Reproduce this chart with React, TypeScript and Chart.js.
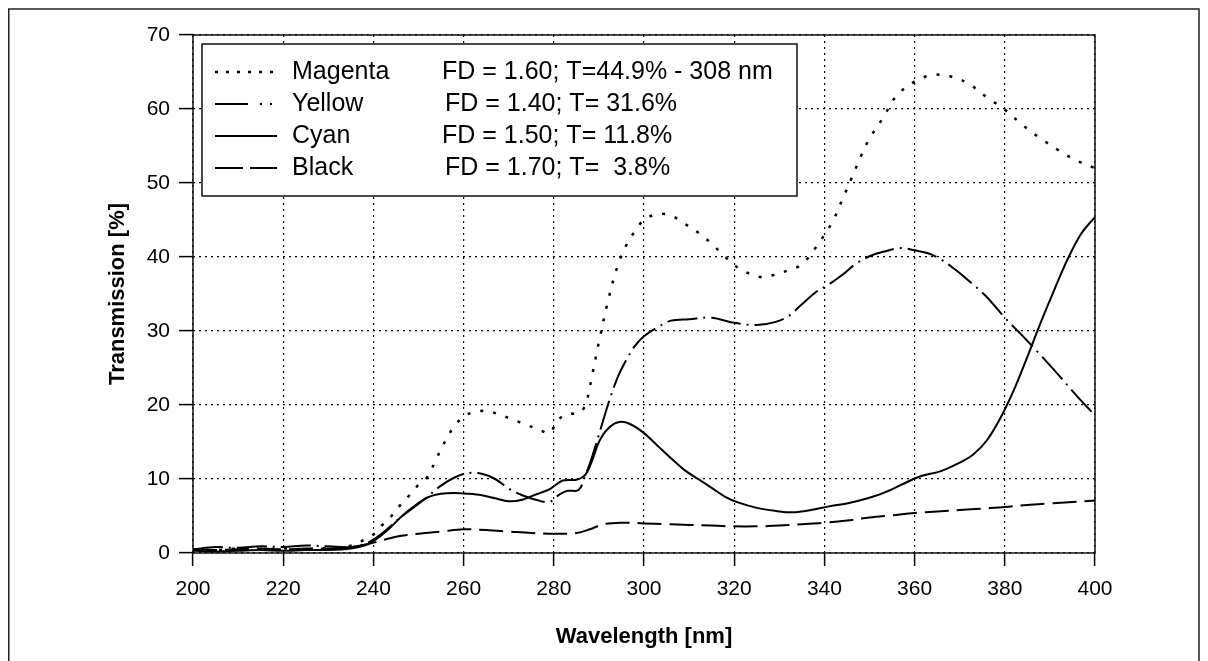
import React, { useEffect, useRef } from "react";
import { Chart, registerables } from "chart.js";

Chart.register(...registerables);

const FONT = "'Liberation Sans', Arial, Helvetica, sans-serif";

// ---- data ----
const xMin = 200;
const xMax = 400;
const xStep = 20;
const yMin = 0;
const yMax = 70;
const yStep = 10;

const xTitle = "Wavelength [nm]";
const yTitle = "Transmission [%]";

const seriesNames = ["Magenta", "Yellow", "Cyan", "Black"];
const seriesNotes = [
  "FD = 1.60; T=44.9% - 308 nm",
  "FD = 1.40; T= 31.6%",
  "FD = 1.50; T= 11.8%",
  "FD = 1.70; T=  3.8%",
];

const magentaNm = [200, 205, 210, 215, 220, 225, 230, 235, 238, 240, 242, 244, 246, 248, 250, 252, 254, 256, 258, 260, 262, 265, 268, 271, 274, 277, 279, 281, 283, 285.5, 287, 288.5, 290, 292, 294, 296, 298, 300, 303, 306, 309, 312, 315, 318, 321, 324, 326, 329, 332, 335, 338, 340, 342, 344, 346, 348, 350, 353, 356, 360, 364, 368, 372, 376, 380, 384, 388, 392, 396, 400];
const magentaT = [0.5, 0.4, 0.6, 0.5, 0.6, 0.5, 0.7, 1.0, 1.8, 2.5, 3.8, 5.0, 6.5, 7.8, 9.2, 10.3, 12.8, 15.2, 17.2, 18.4, 19.0, 19.2, 18.7, 18.0, 17.3, 16.6, 16.2, 18.0, 18.8, 18.9, 20.0, 24.0, 28.5, 34.0, 38.5, 41.5, 43.5, 45.0, 45.8, 45.6, 44.5, 43.3, 41.8, 40.0, 38.5, 37.6, 37.3, 37.6, 38.2, 39.0, 41.2, 43.0, 45.0, 47.8, 50.6, 53.5, 56.0, 58.8, 61.8, 63.7, 64.6, 64.4, 63.4, 61.6, 59.9, 57.8, 56.0, 54.4, 53.0, 52.0];

const yellowNm = [200, 205, 210, 215, 220, 225, 230, 235, 238, 240, 243, 246, 249, 252, 255, 258, 261, 264, 267, 270, 273, 276, 279, 281, 283, 285.5, 287, 288.5, 290, 292, 294, 296, 298, 300, 303, 306, 310, 315, 320, 325, 329, 332, 335, 338, 341, 344, 347, 350, 353, 357, 360, 363, 366, 369, 372, 376, 380, 384, 388, 392, 396, 400];
const yellowT = [0.5, 0.8, 0.7, 0.9, 0.8, 1.0, 0.9, 0.8, 1.2, 1.8, 3.2, 4.8, 6.2, 7.6, 9.1, 10.2, 10.8, 10.7, 10.0, 8.7, 7.8, 7.2, 6.9, 7.8, 8.4, 8.5, 10.5, 13.0, 16.0, 20.0, 23.5, 26.0, 28.0, 29.3, 30.5, 31.4, 31.6, 31.8, 31.1, 30.8, 31.2, 32.0, 33.6, 35.2, 36.3, 37.6, 39.1, 40.1, 40.7, 41.2, 40.9, 40.5, 39.6, 38.3, 36.8, 34.6, 31.8, 29.3, 26.7, 24.0, 21.2, 18.6];

const cyanNm = [200, 205, 210, 215, 220, 225, 230, 235, 238, 240, 243, 246, 249, 252, 255, 258, 261, 264, 267, 270, 273, 276, 279, 282, 285, 287, 288.5, 290, 292, 294.5, 297, 300, 303, 306, 309, 312, 315, 318, 321, 325, 329, 333, 337, 341, 345, 349, 353, 357, 361, 366, 370, 373, 376, 379, 382, 385, 388, 391, 394, 397, 400];
const cyanT = [0.3, 0.2, 0.3, 0.4, 0.3, 0.4, 0.4, 0.6, 1.0, 1.6, 3.0, 4.8, 6.3, 7.5, 8.0, 8.1, 8.0, 7.8, 7.4, 7.0, 7.2, 7.9, 8.6, 9.8, 9.9, 10.6, 12.5, 15.0, 16.8, 17.7, 17.4, 16.2, 14.5, 12.8, 11.2, 10.0, 8.8, 7.6, 6.8, 6.1, 5.7, 5.5, 5.8, 6.3, 6.7, 7.3, 8.1, 9.2, 10.3, 11.1, 12.2, 13.3, 15.2, 18.2, 22.0, 26.5, 31.2, 35.6, 39.8, 43.2, 45.4];

const blackNm = [200, 205, 210, 215, 220, 225, 230, 235, 240, 245, 250, 255, 260, 265, 270, 275, 280, 285, 288, 291, 295, 300, 305, 310, 315, 320, 325, 330, 335, 340, 345, 350, 355, 360, 365, 370, 375, 380, 385, 390, 395, 400];
const blackT = [0.5, 0.4, 0.5, 0.6, 0.5, 0.6, 0.6, 0.8, 1.4, 2.2, 2.6, 2.9, 3.2, 3.1, 2.9, 2.7, 2.6, 2.7, 3.2, 3.9, 4.1, 4.0, 3.9, 3.8, 3.7, 3.6, 3.6, 3.7, 3.9, 4.1, 4.4, 4.8, 5.1, 5.4, 5.6, 5.8, 6.0, 6.2, 6.5, 6.7, 6.9, 7.1];

// ---- styles ----
const lineDashes = [[3, 10], [30, 6, 2, 6], [], [24, 8]];
const legendDashes = [[3, 8], [33, 12, 2, 8, 2, 20], [], [28, 7]];
const lineWidths = [2.5, 2, 2, 2];

const CANVAS_W = 1192;
const CANVAS_H = 653;

const toPoints = (nm: number[], t: number[]) => nm.map((x, i) => ({ x, y: t[i] }));

const decorPlugin = {
  id: "decor",
  beforeDatasetsDraw(chart: any) {
    const { ctx, chartArea: a } = chart;
    ctx.save();
    ctx.setLineDash([]);
    ctx.strokeStyle = "#111";
    ctx.lineWidth = 1.5;
    ctx.strokeRect(a.left, a.top, a.right - a.left, a.bottom - a.top);
    ctx.restore();
  },
  afterDraw(chart: any) {
    const { ctx } = chart;
    ctx.save();
    // outer frame
    ctx.setLineDash([]);
    ctx.strokeStyle = "#222";
    ctx.lineWidth = 1.5;
    ctx.beginPath();
    ctx.moveTo(0.75, CANVAS_H);
    ctx.lineTo(0.75, 1);
    ctx.lineTo(CANVAS_W - 1, 1);
    ctx.lineTo(CANVAS_W - 1, CANVAS_H);
    ctx.stroke();

    // legend box
    const bx = 194, by = 36, bw = 595, bh = 152;
    ctx.fillStyle = "#fff";
    ctx.fillRect(bx, by, bw, bh);
    ctx.strokeStyle = "#111";
    ctx.lineWidth = 1.5;
    ctx.strokeRect(bx, by, bw, bh);

    const rowY = [64, 96, 128, 160];
    const noteX = [434, 437, 434, 437];
    ctx.font = `25px ${FONT}`;
    ctx.textBaseline = "middle";
    ctx.textAlign = "left";
    ctx.fillStyle = "#000";
    for (let i = 0; i < seriesNames.length; i++) {
      const y = rowY[i];
      ctx.save();
      ctx.strokeStyle = "#000";
      ctx.lineWidth = lineWidths[i];
      ctx.setLineDash(legendDashes[i]);
      ctx.beginPath();
      ctx.moveTo(207, y);
      ctx.lineTo(269, y);
      ctx.stroke();
      ctx.restore();
      ctx.fillText(seriesNames[i], 284, y);
      ctx.fillText(seriesNotes[i], noteX[i], y);
    }
    ctx.restore();
  },
};

export default function App() {
  const ref = useRef<HTMLCanvasElement | null>(null);

  useEffect(() => {
    document.documentElement.style.overflow = "hidden";
    document.body.style.overflow = "hidden";
    const canvas = ref.current;
    if (!canvas) return;
    const datasets = [
      toPoints(magentaNm, magentaT),
      toPoints(yellowNm, yellowT),
      toPoints(cyanNm, cyanT),
      toPoints(blackNm, blackT),
    ].map((data, i) => ({
      label: seriesNames[i],
      data,
      borderColor: "#000",
      backgroundColor: "#000",
      borderWidth: lineWidths[i],
      borderDash: lineDashes[i],
      pointRadius: 0,
      tension: 0.35,
      fill: false,
    }));

    const chart = new Chart(canvas, {
      type: "line",
      data: { datasets },
      options: {
        animation: false,
        responsive: false,
        devicePixelRatio: 1,
        layout: { padding: { left: 97, right: 105, top: 27, bottom: 11 } },
        plugins: {
          legend: { display: false },
          tooltip: { enabled: false },
        },
        scales: {
          x: {
            type: "linear",
            min: xMin,
            max: xMax,
            afterFit: (s: any) => {
              s.height = 97;
            },
            ticks: {
              stepSize: xStep,
              color: "#000",
              padding: 11,
              maxRotation: 0,
              font: { family: FONT, size: 21 },
            },
            grid: {
              color: "#000",
              lineWidth: 1.2,
              tickLength: 13,
              tickWidth: 1.5,
              tickColor: "#000",
              tickBorderDash: [],
            },
            border: { display: false, dash: [2, 4] },
            title: {
              display: true,
              text: xTitle,
              color: "#000",
              padding: 0,
              font: { family: FONT, size: 22, weight: "bold" },
            },
          },
          y: {
            type: "linear",
            min: yMin,
            max: yMax,
            afterFit: (s: any) => {
              s.width = 88;
            },
            ticks: {
              stepSize: yStep,
              color: "#000",
              padding: 9,
              font: { family: FONT, size: 21 },
            },
            grid: {
              color: "#000",
              lineWidth: 1.2,
              tickLength: 14,
              tickWidth: 1.5,
              tickColor: "#000",
              tickBorderDash: [],
            },
            border: { display: false, dash: [2, 4] },
            title: {
              display: true,
              text: yTitle,
              color: "#000",
              padding: 0,
              font: { family: FONT, size: 22, weight: "bold" },
            },
          },
        },
      },
      plugins: [decorPlugin],
    } as any);

    return () => chart.destroy();
  }, []);

  return (
    <div style={{ width: CANVAS_W, height: CANVAS_H }}>
      <canvas ref={ref} width={CANVAS_W} height={CANVAS_H} style={{ display: "block" }} />
    </div>
  );
}
